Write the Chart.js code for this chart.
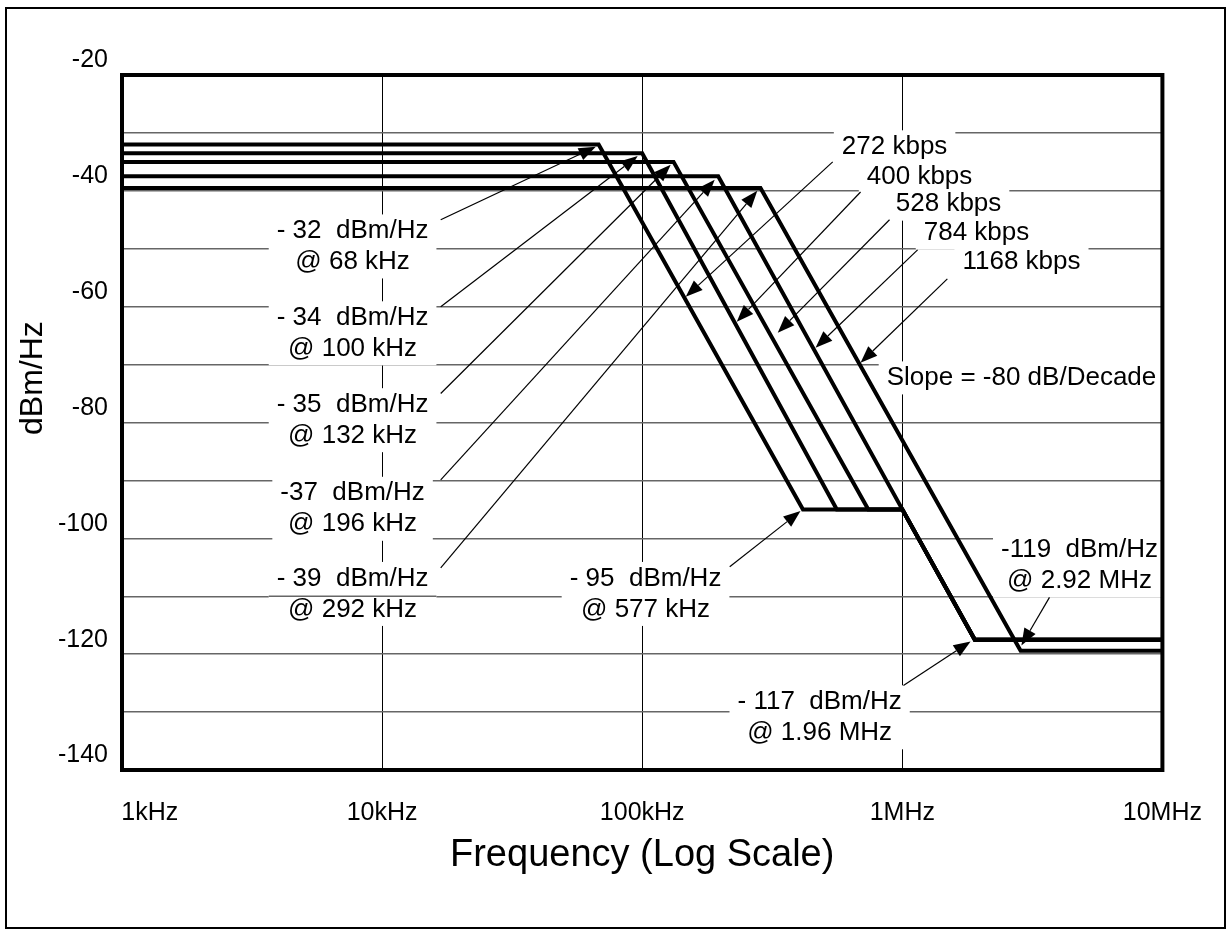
<html lang="en">
  <head>
    <title>SHDSL PSD Masks</title>
    <meta charset="utf-8">
    <script src="https://cdn.jsdelivr.net/npm/chart.js@4.4.1/dist/chart.umd.min.js"></script>
    <style>
      html, body { margin: 0; padding: 0; background: #fff; }
    </style>
  </head>
  <body>
  <canvas id="psdChart" width="1230" height="933"></canvas>
  <script>
    // mask corner points: frequency (Hz) and PSD (dBm/Hz), one pair per rate
    var rateNames = ['272 kbps', '400 kbps', '528 kbps', '784 kbps', '1168 kbps'];
    var freq272  = [1e3, 68e3, 415e3, 1.0e6, 1.9e6, 1e7];
    var psd272   = [-32, -32, -95, -95, -117.5, -117.5];
    var freq400  = [1e3, 100e3, 560e3, 1.0e6, 1.9e6, 1e7];
    var psd400   = [-33.5, -33.5, -95, -95, -117.5, -117.5];
    var freq528  = [1e3, 132e3, 740e3, 1.0e6, 1.9e6, 1e7];
    var psd528   = [-35, -35, -95, -95, -117.5, -117.5];
    var freq784  = [1e3, 196e3, 1.0e6, 1.9e6, 1e7];
    var psd784   = [-37.5, -37.5, -95, -117.5, -117.5];
    var freq1168 = [1e3, 285e3, 2.85e6, 1e7];
    var psd1168  = [-39.5, -39.5, -119.4, -119.4];

    // axis ticks
    var xTicks = [1e3, 1e4, 1e5, 1e6, 1e7];
    var xTickLabels = ['1kHz', '10kHz', '100kHz', '1MHz', '10MHz'];
    var yTickLabels = [-20, -40, -60, -80, -100, -120, -140];

    // callout texts, placed at (frequency, dBm/Hz)
    var notes = [
      { f: 7.7e3, db: -49.6, lines: ['- 32  dBm/Hz', '@ 68 kHz'] },
      { f: 7.7e3, db: -64.6, lines: ['- 34  dBm/Hz', '@ 100 kHz'] },
      { f: 7.7e3, db: -79.6, lines: ['- 35  dBm/Hz', '@ 132 kHz'] },
      { f: 7.7e3, db: -94.9, lines: ['-37  dBm/Hz', '@ 196 kHz'] },
      { f: 7.7e3, db: -109.6, lines: ['- 39  dBm/Hz', '@ 292 kHz'], keepGrid: -110 },
      { f: 103e3, db: -109.6, lines: ['- 95  dBm/Hz', '@ 577 kHz'] },
      { f: 481e3, db: -130.9, lines: ['- 117  dBm/Hz', '@ 1.96 MHz'] },
      { f: 4.8e6, db: -104.7, lines: ['-119  dBm/Hz', '@ 2.92 MHz'] },
      { f: 934e3, db: -32.4, lines: [rateNames[0]] },
      { f: 1.165e6, db: -37.6, lines: [rateNames[1]] },
      { f: 1.506e6, db: -42.3, lines: [rateNames[2]] },
      { f: 1.929e6, db: -47.3, lines: [rateNames[3]] },
      { f: 2.872e6, db: -52.3, lines: [rateNames[4]] },
      { f: 2.872e6, db: -72.3, lines: ['Slope = -80 dB/Decade'] }
    ];

    // arrows: from (f0, db0) to tip (f1, db1)
    var arrows = [
      [16.8e3, -45.0, 66.3e3, -32.4],
      [16.8e3, -60.0, 96.1e3, -34.0],
      [16.8e3, -75.0, 128.7e3, -35.5],
      [16.8e3, -89.9, 190e3, -38.1],
      [16.8e3, -105.1, 277e3, -40.0],
      [217e3, -104.9, 406e3, -95.3],
      [1.01e6, -125.4, 1.83e6, -117.8],
      [3.68e6, -110.2, 2.87e6, -118.5],
      [540e3, -35.0, 147e3, -58.3],
      [691e3, -40.2, 231e3, -62.6],
      [893e3, -45.0, 332e3, -64.5],
      [1.145e6, -50.2, 464e3, -67.1],
      [1.49e6, -55.2, 691e3, -69.7]
    ];

    var fontFamily = '"Liberation Sans", Arial, Helvetica, sans-serif';
    var noteFont = '26px ' + fontFamily;
    var noteLine = 31;

    function series(freqs, psd) {
      return freqs.map(function(f, i) { return { x: f, y: psd[i] }; });
    }

    function drawArrow(ctx, x0, y0, x1, y1) {
      var a = Math.atan2(y1 - y0, x1 - x0);
      var len = 17, half = 6.5;
      ctx.beginPath();
      ctx.moveTo(x0, y0);
      ctx.lineTo(x1 - len * Math.cos(a), y1 - len * Math.sin(a));
      ctx.stroke();
      ctx.beginPath();
      ctx.moveTo(x1, y1);
      ctx.lineTo(x1 - len * Math.cos(a) + half * Math.sin(a), y1 - len * Math.sin(a) - half * Math.cos(a));
      ctx.lineTo(x1 - len * Math.cos(a) - half * Math.sin(a), y1 - len * Math.sin(a) + half * Math.cos(a));
      ctx.closePath();
      ctx.fill();
    }

    var callouts = {
      id: 'callouts',
      // white boxes behind the texts hide the grid, drawn before the masks
      beforeDatasetsDraw: function(chart) {
        var ctx = chart.ctx, xs = chart.scales.x, ys = chart.scales.y;
        ctx.save();
        ctx.font = noteFont;
        notes.forEach(function(n) {
          var cx = xs.getPixelForValue(n.f), cy = ys.getPixelForValue(n.db);
          var w = Math.max.apply(null, n.lines.map(function(t) { return ctx.measureText(t).width; })) + 16;
          var h = n.lines.length * noteLine + 2;
          ctx.fillStyle = '#fff';
          ctx.fillRect(cx - w / 2, cy - h / 2, w, h);
          if (n.keepGrid !== undefined) {
            var gy = ys.getPixelForValue(n.keepGrid);
            ctx.strokeStyle = '#666';
            ctx.lineWidth = 1.5;
            ctx.beginPath();
            ctx.moveTo(cx - w / 2, gy);
            ctx.lineTo(cx + w / 2, gy);
            ctx.stroke();
          }
        });
        ctx.restore();
      },
      afterDatasetsDraw: function(chart) {
        var ctx = chart.ctx, xs = chart.scales.x, ys = chart.scales.y, area = chart.chartArea;
        ctx.save();
        ctx.font = noteFont;
        ctx.fillStyle = '#000';
        ctx.textAlign = 'center';
        ctx.textBaseline = 'middle';
        notes.forEach(function(n) {
          var cx = xs.getPixelForValue(n.f), cy = ys.getPixelForValue(n.db);
          var top = cy - (n.lines.length - 1) * noteLine / 2;
          n.lines.forEach(function(t, i) { ctx.fillText(t, cx, top + i * noteLine); });
        });
        ctx.strokeStyle = '#000';
        ctx.lineWidth = 1.2;
        arrows.forEach(function(a) {
          drawArrow(ctx, xs.getPixelForValue(a[0]), ys.getPixelForValue(a[1]),
                         xs.getPixelForValue(a[2]), ys.getPixelForValue(a[3]));
        });
        // heavy frame round the plot
        ctx.lineWidth = 4;
        ctx.strokeRect(area.left, area.top, area.right - area.left, area.bottom - area.top);
        ctx.restore();
      },
      afterDraw: function(chart) {
        var ctx = chart.ctx;
        ctx.save();
        ctx.strokeStyle = '#000';
        ctx.lineWidth = 2;
        ctx.strokeRect(6, 8, 1219, 920);
        ctx.restore();
      }
    };

    var sets = [[freq272, psd272], [freq400, psd400], [freq528, psd528], [freq784, psd784], [freq1168, psd1168]];

    new Chart(document.getElementById('psdChart').getContext('2d'), {
      type: 'line',
      data: {
        datasets: sets.map(function(s, i) {
          return {
            label: rateNames[i],
            data: series(s[0], s[1]),
            borderColor: '#000',
            borderWidth: 4,
            borderJoinStyle: 'miter',
            pointRadius: 0,
            fill: false,
            tension: 0
          };
        })
      },
      options: {
        responsive: false,
        animation: false,
        devicePixelRatio: 1,
        layout: { padding: { top: 75, right: 67, bottom: 0, left: 0 } },
        plugins: { legend: { display: false }, tooltip: { enabled: false } },
        scales: {
          x: {
            type: 'logarithmic',
            min: 1e3,
            max: 1e7,
            afterBuildTicks: function(scale) {
              scale.ticks = xTicks.map(function(v) { return { value: v }; });
            },
            afterFit: function(scale) { scale.height = 163; },
            grid: { color: '#000', lineWidth: 1, drawTicks: false },
            border: { display: false },
            ticks: {
              autoSkip: false,
              maxRotation: 0,
              padding: 28,
              color: '#000',
              font: { size: 25, family: fontFamily },
              callback: function(v, i) {
                // first label sits right of its gridline
                return i === 0 ? '        ' + xTickLabels[i] : xTickLabels[i];
              }
            },
            title: {
              display: true,
              text: 'Frequency (Log Scale)',
              color: '#000',
              font: { size: 38, family: fontFamily },
              padding: { top: 0, bottom: 55 }
            }
          },
          y: {
            min: -140,
            max: -20,
            afterFit: function(scale) { scale.width = 122; },
            grid: { color: '#666', lineWidth: 1.5, drawTicks: false },
            border: { display: false },
            ticks: {
              stepSize: 10,
              padding: 14,
              labelOffset: -14.5,
              color: '#000',
              font: { size: 25, family: fontFamily },
              callback: function(v) { return yTickLabels.indexOf(v) >= 0 ? String(v) : ''; }
            },
            title: {
              display: true,
              text: '          dBm/Hz',
              color: '#000',
              font: { size: 32, family: fontFamily },
              padding: { top: 14, bottom: 0 }
            }
          }
        }
      },
      plugins: [callouts]
    });
  </script>
  </body>
</html>
